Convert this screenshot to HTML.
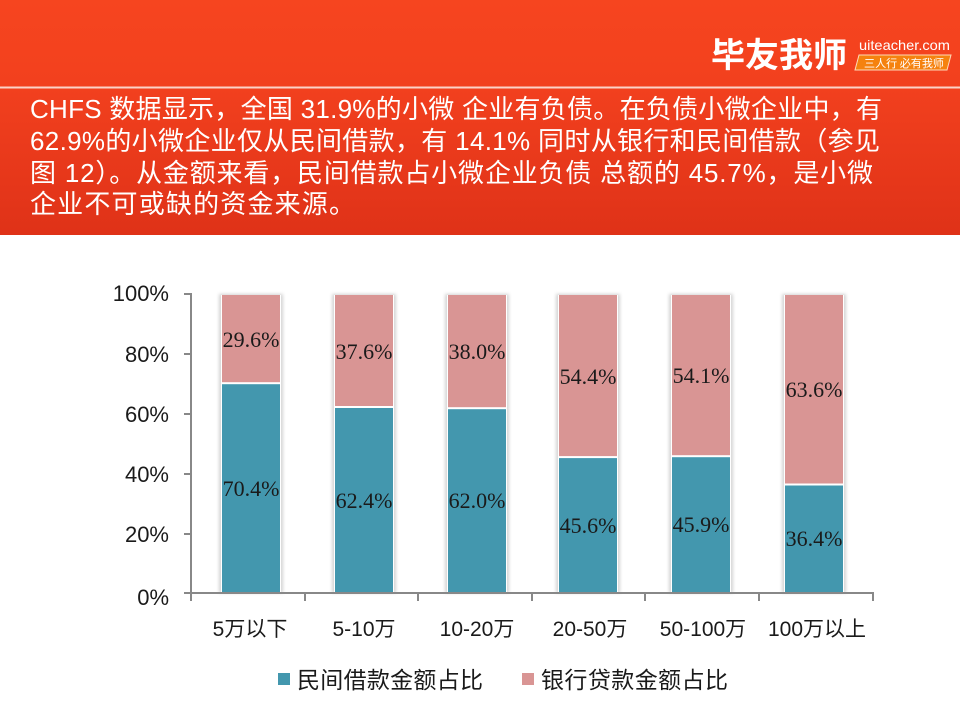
<!DOCTYPE html>
<html><head><meta charset="utf-8"><style>
html,body{margin:0;padding:0;background:#fff;}
body{width:960px;height:720px;overflow:hidden;position:relative;}
svg{display:block;}
</style></head><body>
<svg width="960" height="720" viewBox="0 0 960 720" xmlns="http://www.w3.org/2000/svg">
<defs>
<linearGradient id="hdr" x1="0" y1="0" x2="0" y2="1">
<stop offset="0" stop-color="#F6451F"/>
<stop offset="0.37" stop-color="#F2401E"/>
<stop offset="1" stop-color="#DF3218"/>
</linearGradient>
<filter id="blur" x="-20%" y="-5%" width="140%" height="110%"><feGaussianBlur stdDeviation="1.6"/></filter>
</defs>
<rect x="0" y="0" width="960" height="235" fill="url(#hdr)"/>
<rect x="0" y="86.5" width="960" height="2" fill="#FBD3C8"/>

<!-- logo -->
<text x="711" y="67" font-family="'Noto Sans CJK SC','WenQuanYi Zen Hei',sans-serif" font-weight="bold" font-size="34" fill="#fff" textLength="136" lengthAdjust="spacingAndGlyphs">毕友我师</text>
<text x="859" y="50" font-family="'Liberation Sans',sans-serif" font-size="14" fill="#fff" textLength="91" lengthAdjust="spacingAndGlyphs">uiteacher.com</text>
<polygon points="859,55 951,55 947,70 855,70" fill="#F5820F" stroke="#FFD9B8" stroke-width="1"/>
<text x="864" y="67" font-family="'Noto Sans CJK SC',sans-serif" font-size="11" fill="#fff" textLength="80" lengthAdjust="spacingAndGlyphs">三人行 必有我师</text>

<!-- paragraph -->
<g font-family="'Liberation Sans','Noto Sans CJK SC',sans-serif" font-size="26" fill="#fff">
<text x="30" y="118" textLength="852" lengthAdjust="spacing">CHFS 数据显示，全国 31.9%的小微 企业有负债。在负债小微企业中，有</text>
<text x="30" y="150" textLength="850" lengthAdjust="spacing">62.9%的小微企业仅从民间借款，有 14.1% 同时从银行和民间借款（参见</text>
<text x="30" y="182" textLength="843" lengthAdjust="spacing">图 12）。从金额来看，民间借款占小微企业负债 总额的 45.7%，是小微</text>
<text x="30" y="213" textLength="325" lengthAdjust="spacing">企业不可或缺的资金来源。</text>
</g>

<!-- bar shadows -->
<g fill="#d4d4d4" filter="url(#blur)">
<rect x="219" y="294" width="64" height="299"/>
<rect x="332" y="294" width="64" height="299"/>
<rect x="445" y="294" width="64" height="299"/>
<rect x="556" y="294" width="64" height="299"/>
<rect x="669" y="294" width="64" height="299"/>
<rect x="782" y="294" width="64" height="299"/>
</g>
<g fill="#fff">
<rect x="221" y="295" width="60" height="298"/>
<rect x="334" y="295" width="60" height="298"/>
<rect x="447" y="295" width="60" height="298"/>
<rect x="558" y="295" width="60" height="298"/>
<rect x="671" y="295" width="60" height="298"/>
<rect x="784" y="295" width="60" height="298"/>
</g>
<!-- pink -->
<g fill="#D99594">
<rect x="222" y="295" width="58" height="87.2"/>
<rect x="335" y="295" width="58" height="111"/>
<rect x="448" y="295" width="58" height="112.2"/>
<rect x="559" y="295" width="58" height="161.1"/>
<rect x="672" y="295" width="58" height="160.2"/>
<rect x="785" y="295" width="58" height="188.5"/>
</g>
<!-- teal -->
<g fill="#4397AE">
<rect x="222" y="384.2" width="58" height="208.8"/>
<rect x="335" y="408" width="58" height="185"/>
<rect x="448" y="409.2" width="58" height="183.8"/>
<rect x="559" y="458.1" width="58" height="134.9"/>
<rect x="672" y="457.2" width="58" height="135.8"/>
<rect x="785" y="485.5" width="58" height="107.5"/>
</g>

<!-- data labels -->
<g font-family="'Liberation Serif',serif" font-size="22" fill="#1a1a1a" text-anchor="middle">
<text x="251" y="347">29.6%</text>
<text x="251" y="496">70.4%</text>
<text x="364" y="359">37.6%</text>
<text x="364" y="508">62.4%</text>
<text x="477" y="359">38.0%</text>
<text x="477" y="508">62.0%</text>
<text x="588" y="384">54.4%</text>
<text x="588" y="533">45.6%</text>
<text x="701" y="383">54.1%</text>
<text x="701" y="532">45.9%</text>
<text x="814" y="397">63.6%</text>
<text x="814" y="546">36.4%</text>
</g>

<!-- axes -->
<g stroke="#888" stroke-width="2" fill="none">
<line x1="191" y1="293" x2="191" y2="594"/>
<line x1="184" y1="593" x2="874" y2="593"/>
<line x1="184" y1="294" x2="191" y2="294"/>
<line x1="184" y1="354" x2="191" y2="354"/>
<line x1="184" y1="414" x2="191" y2="414"/>
<line x1="184" y1="474" x2="191" y2="474"/>
<line x1="184" y1="534" x2="191" y2="534"/>
<line x1="191" y1="593" x2="191" y2="601"/>
<line x1="305" y1="593" x2="305" y2="601"/>
<line x1="418" y1="593" x2="418" y2="601"/>
<line x1="532" y1="593" x2="532" y2="601"/>
<line x1="645" y1="593" x2="645" y2="601"/>
<line x1="759" y1="593" x2="759" y2="601"/>
<line x1="873" y1="593" x2="873" y2="601"/>
</g>

<!-- y labels -->
<g font-family="'Liberation Sans',sans-serif" font-size="22" fill="#1a1a1a" text-anchor="end">
<text x="169" y="301">100%</text>
<text x="169" y="362">80%</text>
<text x="169" y="422">60%</text>
<text x="169" y="482">40%</text>
<text x="169" y="542">20%</text>
<text x="169" y="605">0%</text>
</g>

<!-- category labels -->
<g font-family="'Liberation Sans','Noto Sans CJK SC',sans-serif" font-size="21" fill="#1a1a1a" text-anchor="middle">
<text x="250" y="636">5万以下</text>
<text x="364" y="636">5-10万</text>
<text x="477" y="636">10-20万</text>
<text x="590" y="636">20-50万</text>
<text x="703" y="636">50-100万</text>
<text x="817" y="636">100万以上</text>
</g>

<!-- legend -->
<rect x="278" y="673" width="12" height="12" fill="#4397AE"/>
<rect x="522" y="673" width="12" height="12" fill="#D99594"/>
<g font-family="'Noto Sans CJK SC',sans-serif" font-size="23" fill="#1a1a1a">
<text x="297" y="688" textLength="186" lengthAdjust="spacing">民间借款金额占比</text>
<text x="541" y="688" textLength="187" lengthAdjust="spacing">银行贷款金额占比</text>
</g>
</svg>
</body></html>
